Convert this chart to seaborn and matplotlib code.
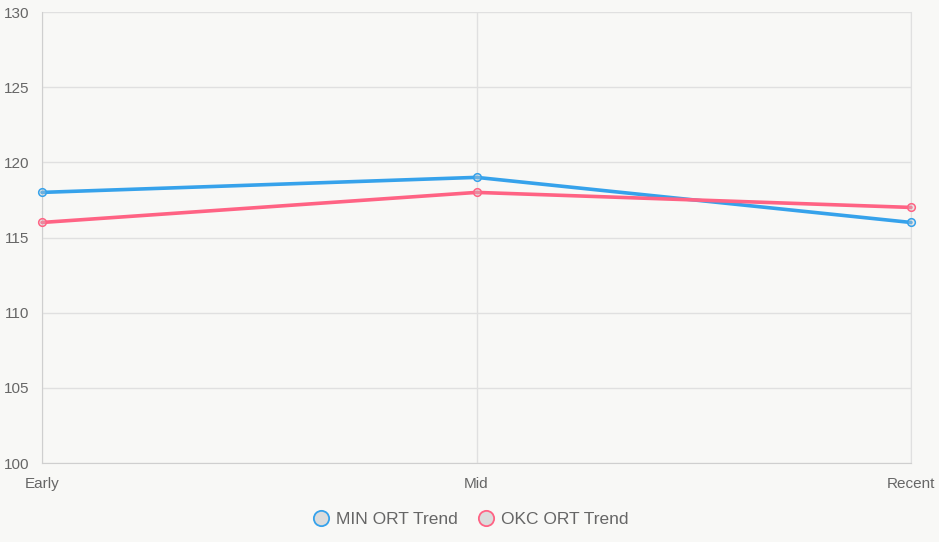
import matplotlib
matplotlib.use("Agg")
import matplotlib.pyplot as plt
import seaborn as sns
import pandas as pd
from matplotlib.lines import Line2D

periods = ["Early", "Mid", "Recent"]
min_ort = [118, 119, 116]
okc_ort = [116, 118, 117]
series_names = ["MIN ORT Trend", "OKC ORT Trend"]
colors = ["#36a2eb", "#ff6384"]

df = pd.DataFrame({
    "x": list(range(len(periods))) * 2,
    "value": min_ort + okc_ort,
    "series": [series_names[0]] * 3 + [series_names[1]] * 3,
})

sns.set_style("white")
plt.rcParams["font.family"] = ["Liberation Sans", "DejaVu Sans"]

bg = "#f8f8f6"
fig = plt.figure(figsize=(9.39, 5.42), dpi=100, facecolor=bg)
ax = fig.add_axes([42/939, 1-463/542, (911-42)/939, (463-12)/542])
ax.set_facecolor(bg)

for name, c in zip(series_names, colors):
    sub = df[df["series"] == name]
    sns.lineplot(data=sub, x="x", y="value", ax=ax, color=c, linewidth=2.6,
                 marker="o", markersize=5.5, markerfacecolor=(0.8, 0.8, 0.8, 0.35),
                 markeredgecolor=c, markeredgewidth=1.1, legend=False, zorder=3)
for ln in ax.lines:
    ln.set_clip_on(False)

ax.set_xlim(0, 2)
ax.set_ylim(100, 130)
ax.set_xticks(range(3))
ax.set_xticklabels(periods)
ax.set_yticks(range(100, 131, 5))
ax.set_xlabel("")
ax.set_ylabel("")
ax.grid(True, color="#e0e0e0", linewidth=1)
ax.set_axisbelow(True)
for s in ["top"]:
    ax.spines[s].set_visible(False)
ax.spines["right"].set_color("#e0e0e0")
ax.spines["right"].set_zorder(0.5)
ax.spines["left"].set_color("#cfcfcf")
ax.spines["bottom"].set_color("#cfcfcf")
ax.tick_params(axis="both", colors="#666666", labelsize=11, length=7, width=1,
               color="#e0e0e0", pad=2)
ax.tick_params(axis="x", pad=3)

handles = [Line2D([], [], linestyle="none", marker="o", markersize=11,
                  markerfacecolor="#dcdcdc", markeredgecolor=c, markeredgewidth=1.3)
           for c in colors]
leg = fig.legend(handles, series_names, loc="center", bbox_to_anchor=(0.5, 1-519/542),
                 ncol=2, frameon=False, fontsize=12.5, handletextpad=0.3,
                 columnspacing=1.0, handlelength=1.2)
for t in leg.get_texts():
    t.set_color("#666666")

fig.savefig("out.png", dpi=100, facecolor=bg)
